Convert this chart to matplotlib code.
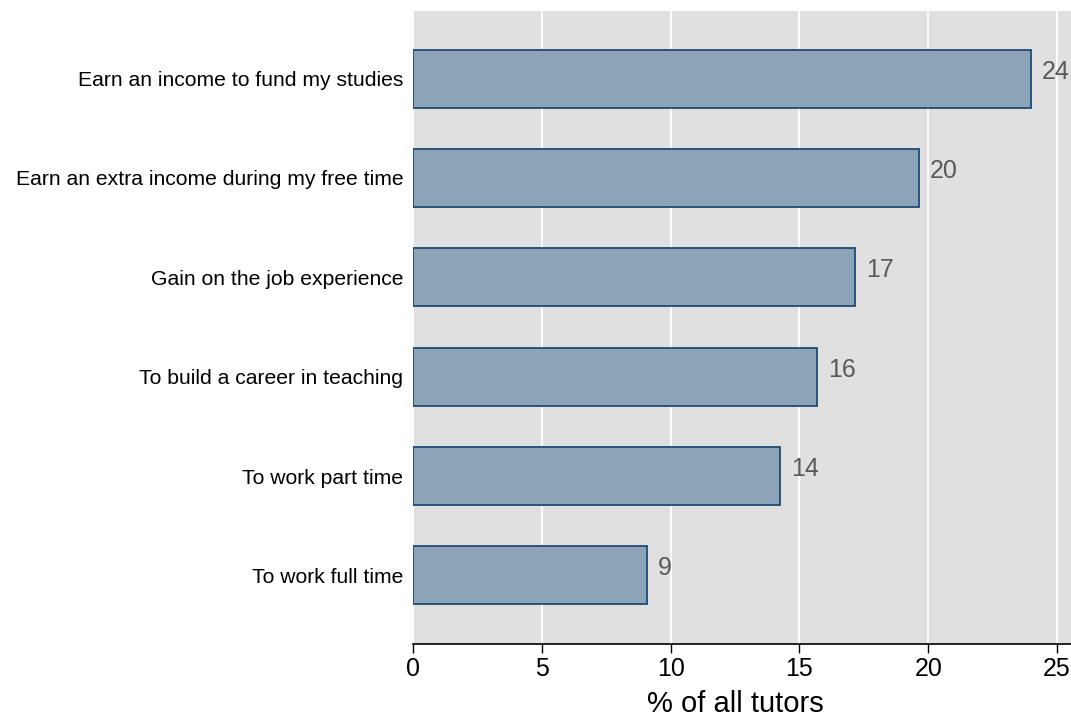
import numpy as np
import matplotlib.pyplot as plt

plt.rcParams['font.family'] = ['Liberation Sans', 'DejaVu Sans']

reasons = ['Earn an income to fund my studies',
           'Earn an extra income during my free time',
           'Gain on the job experience',
           'To build a career in teaching',
           'To work part time',
           'To work full time']
shares = [24.0, 19.65, 17.15, 15.7, 14.25, 9.1]
value_labels = ['24', '20', '17', '16', '14', '9']
xticks = [0, 5, 10, 15, 20, 25]

W, H = 1071, 720
fig = plt.figure(figsize=(W / 100, H / 100), dpi=100)
ax = fig.add_axes([413 / W, (H - 644) / H, (W - 413) / W, (644 - 11) / H])
ax.set_facecolor('#e0e0e0')

y = np.arange(len(reasons))
ax.barh(y, shares, height=0.585, color='#8ca3b8', edgecolor='#1f4b73',
        linewidth=1.3, zorder=3)
for yi, v, lab in zip(y, shares, value_labels):
    ax.text(v + 0.42, yi - 0.07, lab, color='#5a5a5a', fontsize=18,
            ha='left', va='center', zorder=4)

ax.set_ylim(len(reasons) - 1 + 0.69, -0.68)
ax.set_xlim(0, 25.54)
ax.set_yticks(y)
ax.set_yticklabels(reasons, fontsize=15.2)
ax.tick_params(axis='y', length=0, pad=7)
ax.set_xticks(xticks)
ax.set_xticklabels([str(t) for t in xticks], fontsize=18)
ax.tick_params(axis='x', length=6.5, width=1, pad=3)
ax.grid(axis='x', color='white', linewidth=1.3, zorder=1)
ax.set_axisbelow(True)
for s in ['top', 'right', 'left']:
    ax.spines[s].set_visible(False)
ax.spines['bottom'].set_linewidth(1.2)
ax.set_xlabel('% of all tutors', fontsize=21, labelpad=6)
ax.xaxis.label.set_x(0.49)

fig.savefig('out.png', dpi=100)
